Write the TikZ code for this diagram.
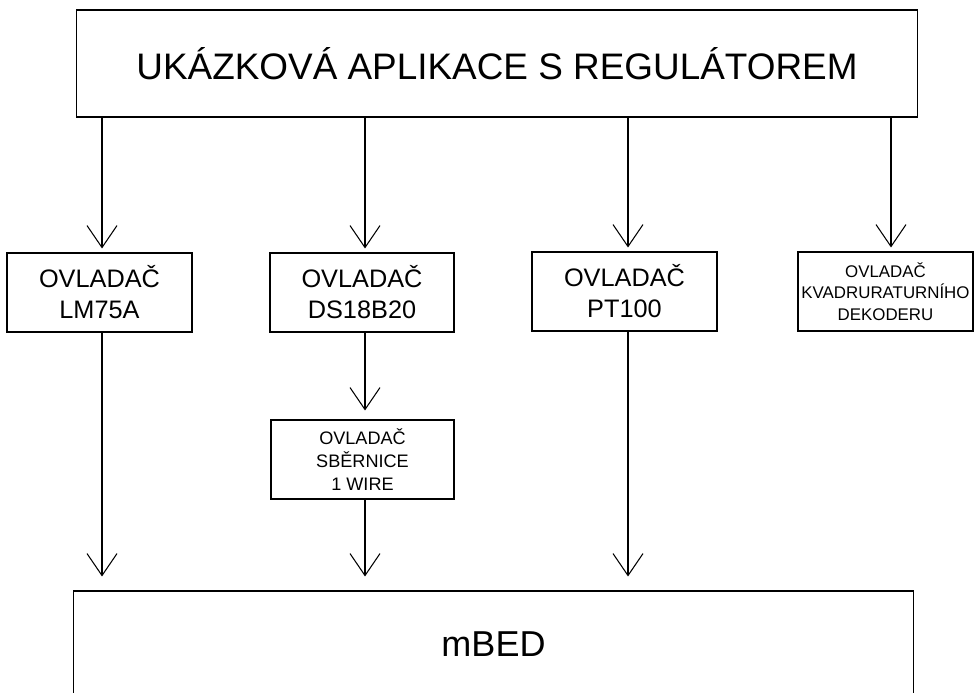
\documentclass[tikz,border=0pt]{standalone}
\usepackage{fontspec}
\setmainfont{Liberation Sans}
\usetikzlibrary{arrows.meta}

\begin{document}
\begin{tikzpicture}[x=0.02cm, y=-0.02cm,
    box/.style={draw, line width=0.6pt, inner sep=0pt, align=center},
    bigbox/.style={box, minimum height=1.58cm, font=\fontsize{14.4}{17.6}\selectfont},
    link/.style={line width=0.6pt, -{Straight Barb[length=4.4mm, width=6mm]}}]
    \useasboundingbox (0,0) rectangle (974,693);
    \node[box, minimum width=16.84cm, minimum height=2.14cm, font=\fontsize{21}{25}\selectfont] (APP) at (497,63.5) {UKÁZKOVÁ APLIKACE S REGULÁTOREM};
    \node[bigbox, minimum width=3.7cm] (LM) at (99.5,292.5) {OVLADAČ\\LM75A};
    \node[bigbox, minimum width=3.68cm] (DS) at (362,292.5) {OVLADAČ\\DS18B20};
    \node[bigbox, minimum width=3.7cm] (PT) at (624.5,291.5) {OVLADAČ\\PT100};
    \node[box, minimum height=1.58cm, text width=3.5cm, font=\fontsize{9.6}{12.2}\selectfont] (KV) at (885.5,291.5) {OVLADAČ\\KVADRURATURNÍHO\\DEKODERU};
    \node[box, minimum width=3.66cm, minimum height=1.58cm, font=\fontsize{10.3}{13.3}\selectfont] (WIRE) at (362.5,459.5) {OVLADAČ\\SBĚRNICE\\1 WIRE};
    \node[box, minimum width=16.82cm, minimum height=2.12cm, font=\fontsize{20.5}{24}\selectfont] (MBED) at (493.5,644) {mBED};
    \coordinate (LMx) at ([xshift=0.05cm]LM.center);
    \coordinate (DSx) at ([xshift=0.06cm]DS.center);
    \coordinate (PTx) at ([xshift=0.07cm]PT.center);
    \coordinate (KVx) at ([xshift=0.11cm]KV.center);
    \draw[link, shorten >=0.08cm] (LMx |- APP.south) -- (LMx |- LM.north);
    \draw[link, shorten >=0.08cm] (DSx |- APP.south) -- (DSx |- DS.north);
    \draw[link, shorten >=0.08cm] (PTx |- APP.south) -- (PTx |- PT.north);
    \draw[link, shorten >=0.08cm] (KVx |- APP.south) -- (KVx |- KV.north);
    \draw[link, shorten >=0.18cm] (DSx |- DS.south) -- (DSx |- WIRE.north);
    \draw[link, shorten >=0.28cm] (LMx |- LM.south) -- (LMx |- MBED.north);
    \draw[link, shorten >=0.28cm] (DSx |- WIRE.south) -- (DSx |- MBED.north);
    \draw[link, shorten >=0.28cm] (PTx |- PT.south) -- (PTx |- MBED.north);
\end{tikzpicture}
\end{document}
